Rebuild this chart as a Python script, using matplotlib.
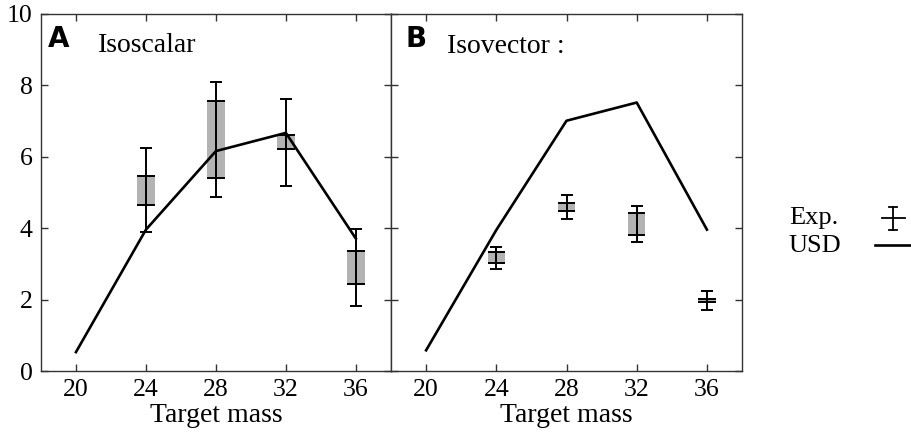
import matplotlib
matplotlib.use("Agg")
import matplotlib.pyplot as plt
from matplotlib.lines import Line2D

plt.rcParams['font.family'] = ['Liberation Serif', 'DejaVu Serif']

masses = [20, 24, 28, 32, 36]
exp_masses = [24, 28, 32, 36]

# Isoscalar (panel A)
usd_iso = [0.53, 3.96, 6.16, 6.67, 3.71]
exp_iso = [5.06, 6.49, 6.41, 2.90]
stat_iso = [1.18, 1.61, 1.22, 1.09]
sys_iso = [0.40, 1.08, 0.20, 0.45]

# Isovector (panel B)
usd_vec = [0.58, 3.95, 7.01, 7.52, 3.96]
exp_vec = [3.17, 4.59, 4.12, 1.98]
stat_vec = [0.31, 0.34, 0.51, 0.26]
sys_vec = [0.15, 0.12, 0.30, 0.05]

letters = ['A', 'B']
titles = ['Isoscalar', 'Isovector :']

fig = plt.figure(figsize=(9.11, 4.32), dpi=100)
ax1 = fig.add_axes([0.045, 0.1412, 0.384, 0.8264])
ax2 = fig.add_axes([0.4292, 0.1412, 0.3853, 0.8264])

frame = '#333333'
letter_pos = [(0.02, 0.908), (0.04, 0.908)]
title_pos = [(0.163, 0.894), (0.16, 0.891)]
for i, (ax, usd, exp, stat, sysr) in enumerate(zip(
        [ax1, ax2], [usd_iso, usd_vec], [exp_iso, exp_vec],
        [stat_iso, stat_vec], [sys_iso, sys_vec])):
    # systematic boxes
    for m, v, s in zip(exp_masses, exp, sysr):
        ax.bar(m, 2 * s, bottom=v - s, width=1.0, color='#b3b3b3', zorder=1)
        ax.hlines([v - s, v + s], m - 0.5, m + 0.5, color='black', lw=1.4, zorder=2)
    ax.errorbar(exp_masses, exp, yerr=stat, fmt='none', ecolor='black',
                elinewidth=1.4, capsize=4, capthick=1.4, zorder=3)
    ax.plot(masses, usd, color='black', lw=1.9, zorder=4)

    ax.set_xlim(18, 38)
    ax.set_ylim(0, 10)
    ax.set_xticks(masses)
    ax.set_yticks([0, 2, 4, 6, 8, 10])
    ax.tick_params(direction='in', length=5, width=1, color=frame, labelsize=18.5,
                   top=True, right=True, pad=6)
    for sp in ax.spines.values():
        sp.set_color(frame)
        sp.set_linewidth(1)
    ax.set_xlabel('Target mass', fontsize=20, labelpad=1.5)
    ax.text(*letter_pos[i], letters[i], transform=ax.transAxes, fontsize=20,
            fontweight='bold', family=['DejaVu Sans'], va='baseline', ha='left')
    ax.text(*title_pos[i], titles[i], transform=ax.transAxes, fontsize=20,
            va='baseline', ha='left')

ax2.tick_params(labelleft=False)

# legend drawn by hand on the right
fig.text(0.866, 0.4954, 'Exp.', fontsize=19, va='center', ha='left')
fig.text(0.866, 0.4306, 'USD', fontsize=19, va='center', ha='left')
tr = fig.transFigure
fig.add_artist(Line2D([893 / 911, 893 / 911], [1 - 207 / 432, 1 - 230 / 432],
                      color='black', lw=1.3, transform=tr))
for yy in [207, 230]:
    fig.add_artist(Line2D([889 / 911, 897 / 911], [1 - yy / 432, 1 - yy / 432],
                          color='black', lw=1.3, transform=tr))
fig.add_artist(Line2D([882 / 911, 905 / 911], [1 - 218 / 432, 1 - 218 / 432],
                      color='black', lw=1.3, transform=tr))
fig.add_artist(Line2D([875 / 911, 1.0], [1 - 245 / 432, 1 - 245 / 432],
                      color='black', lw=1.9, transform=tr))

fig.savefig('out.png', dpi=100)
